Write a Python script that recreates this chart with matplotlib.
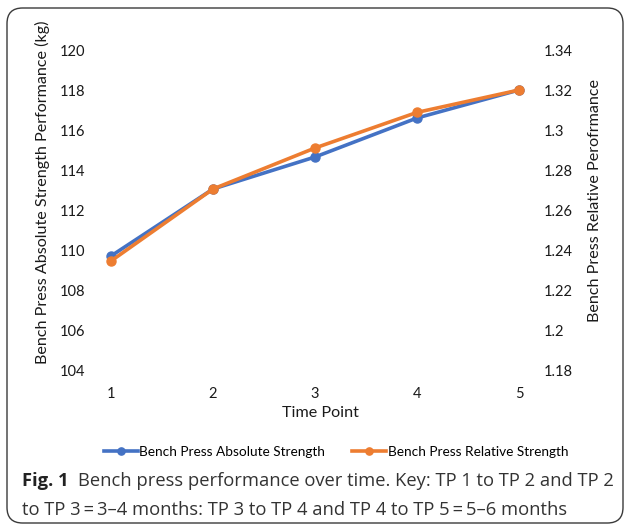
import matplotlib
matplotlib.use("Agg")
import matplotlib.pyplot as plt
from matplotlib.patches import FancyBboxPatch

# data
time_points = [1, 2, 3, 4, 5]
absolute_strength = [109.7, 113.05, 114.65, 116.6, 118.0]
relative_strength = [1.2345, 1.2705, 1.291, 1.3088, 1.320]
left_ticks = [104, 106, 108, 110, 112, 114, 116, 118, 120]
right_ticks = [1.18, 1.2, 1.22, 1.24, 1.26, 1.28, 1.3, 1.32, 1.34]
right_tick_labels = ["1.18", "1.2", "1.22", "1.24", "1.26", "1.28", "1.3", "1.32", "1.34"]

blue = "#4472C4"
orange = "#ED7D31"
chart_font = ["Lato", "DejaVu Sans"]
plt.rcParams["font.family"] = chart_font

W, H = 624, 529
fig = plt.figure(figsize=(W / 100, H / 100), dpi=100)

# rounded frame round the chart and caption
frame = FancyBboxPatch((7 / W, 6 / H), 616 / W, 515 / H,
                       boxstyle="round,pad=0,rounding_size=0.025",
                       transform=fig.transFigure, facecolor="none",
                       edgecolor="#3a3a3a", linewidth=1.0, mutation_aspect=W / H)
fig.patches.append(frame)

# axes: points at x=111..519 px, y from 370 (bottom) to 50 (top)
ax_left, ax_right = 92, 540
ax = fig.add_axes([ax_left / W, 1 - 370 / H, (ax_right - ax_left) / W, 320 / H])
px_per_unit = (519 - 111) / 4
ax.set_xlim(1 - (111 - ax_left) / px_per_unit, 5 + (ax_right - 519) / px_per_unit)
ax.set_ylim(104, 120)
ax2 = ax.twinx()
ax2.set_ylim(1.18, 1.34)

ax.plot(time_points, absolute_strength, color=blue, linewidth=2.6,
        marker="o", markersize=6.5, zorder=3, label="Bench Press Absolute Strength")
ax2.plot(time_points, relative_strength, color=orange, linewidth=2.6,
         marker="o", markersize=6.5, zorder=3, label="Bench Press Relative Strength")

for a in (ax, ax2):
    for s in a.spines.values():
        s.set_visible(False)
    a.tick_params(length=0, labelsize=10.5, colors="#1a1a1a")

ax.set_xticks(time_points)
ax.set_yticks(left_ticks)
ax.tick_params(axis="y", pad=5)
ax.tick_params(axis="x", pad=12)
ax2.set_yticks(right_ticks)
ax2.set_yticklabels(right_tick_labels)
ax2.tick_params(axis="y", pad=3)

fig.text(42 / W, 1 - 192 / H, "Bench Press Absolute Strength Performance (kg)",
         rotation=90, ha="center", va="center", fontsize=11.6, color="#1a1a1a")
fig.text(595 / W, 1 - 200 / H, "Bench Press Relative Perofrmance",
         rotation=90, ha="center", va="center", fontsize=11.6, color="#1a1a1a")
fig.text(320 / W, 1 - 413 / H, "Time Point", ha="center", va="center",
         fontsize=11.6, color="#1a1a1a")

h1, l1 = ax.get_legend_handles_labels()
h2, l2 = ax2.get_legend_handles_labels()
fig.legend(h1 + h2, l1 + l2, loc="center", bbox_to_anchor=(336 / W, 1 - 452 / H),
           ncol=2, frameon=False, fontsize=9.8, handlelength=2.5, handletextpad=0.1,
           columnspacing=2.0, markerscale=0.8)

# caption with bold "Fig. 1"
cap_font = ["Open Sans", "DejaVu Sans"]
cap_size = 13.2
fig.canvas.draw()
renderer = fig.canvas.get_renderer()
t_bold = fig.text(22 / W, 1 - 481 / H, "Fig. 1", fontweight="bold", fontsize=cap_size,
                  family=cap_font, ha="left", va="center", color="#222222")
bb = t_bold.get_window_extent(renderer)
fig.text(bb.x1 / W + 9 / W, 1 - 481 / H,
         "Bench press performance over time. Key: TP 1 to TP 2 and TP 2",
         fontsize=cap_size, family=cap_font, ha="left", va="center", color="#333333")
fig.text(22 / W, 1 - 510 / H,
         "to TP 3\u2009=\u20093\u20134 months: TP 3 to TP 4 and TP 4 to TP 5\u2009=\u20095\u20136 months",
         fontsize=cap_size, family=cap_font, ha="left", va="center", color="#333333")

fig.savefig("out.png", dpi=100)
